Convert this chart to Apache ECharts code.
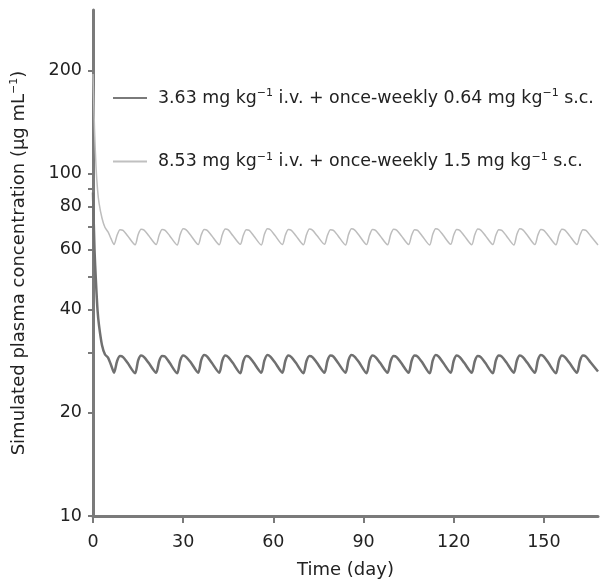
<!DOCTYPE html>
<html>
<head>
<meta charset="utf-8">
<title>Simulated plasma concentration</title>
<script src="https://cdn.jsdelivr.net/npm/echarts@6/dist/echarts.min.js"></script>
<style>
  html, body { margin: 0; padding: 0; background: #fff; }
  #main { width: 605px; height: 582px; }
</style>
</head>
<body>
<div id="main"></div>
<script>
// time points (day)
var days = [0, 0.5, 1, 1.5, 2, 3, 4, 5, 6, 7,
  8, 9, 10, 11.5, 14,
  15, 16, 17, 18.5, 21,
  22, 23, 24, 25.5, 28,
  29, 30, 31, 32.5, 35,
  36, 37, 38, 39.5, 42,
  43, 44, 45, 46.5, 49,
  50, 51, 52, 53.5, 56,
  57, 58, 59, 60.5, 63,
  64, 65, 66, 67.5, 70,
  71, 72, 73, 74.5, 77,
  78, 79, 80, 81.5, 84,
  85, 86, 87, 88.5, 91,
  92, 93, 94, 95.5, 98,
  99, 100, 101, 102.5, 105,
  106, 107, 108, 109.5, 112,
  113, 114, 115, 116.5, 119,
  120, 121, 122, 123.5, 126,
  127, 128, 129, 130.5, 133,
  134, 135, 136, 137.5, 140,
  141, 142, 143, 144.5, 147,
  148, 149, 150, 151.5, 154,
  155, 156, 157, 158.5, 161,
  162, 163, 164, 165.5, 168];

// 3.63 mg/kg i.v. + 0.64 mg/kg s.c. weekly
var lowDose = [88, 60, 48, 40, 36, 31.5, 29.6, 29.0, 27.6, 26.2,
  28.3, 29.3, 29.1, 28.0, 26.1,
  28.4, 29.4, 29.1, 28.0, 26.2,
  28.3, 29.3, 29.2, 28.0, 26.1,
  28.4, 29.4, 29.1, 28.1, 26.2,
  28.5, 29.5, 29.2, 28.0, 26.2,
  28.4, 29.4, 29.1, 28.0, 26.1,
  28.3, 29.3, 29.1, 28.0, 26.2,
  28.4, 29.5, 29.2, 28.1, 26.2,
  28.4, 29.4, 29.1, 28.0, 26.1,
  28.3, 29.3, 29.1, 28.0, 26.2,
  28.4, 29.4, 29.2, 28.0, 26.2,
  28.5, 29.5, 29.2, 28.1, 26.1,
  28.4, 29.4, 29.1, 28.0, 26.2,
  28.3, 29.3, 29.1, 28.0, 26.2,
  28.4, 29.4, 29.2, 28.1, 26.1,
  28.4, 29.5, 29.2, 28.0, 26.2,
  28.4, 29.4, 29.1, 28.0, 26.2,
  28.3, 29.3, 29.1, 28.0, 26.1,
  28.4, 29.4, 29.2, 28.1, 26.2,
  28.4, 29.4, 29.1, 28.0, 26.2,
  28.5, 29.5, 29.2, 28.0, 26.1,
  28.4, 29.4, 29.1, 28.0, 26.2,
  28.4, 29.4, 29.2, 28.1, 26.4];

// 8.53 mg/kg i.v. + 1.5 mg/kg s.c. weekly
var highDose = [195, 135, 105, 90, 82, 74, 69.5, 67.5, 64.5, 62.0,
  66.0, 68.5, 68.2, 65.8, 61.9,
  66.2, 68.7, 68.3, 65.9, 62.0,
  66.0, 68.6, 68.2, 65.8, 61.8,
  66.3, 68.9, 68.4, 66.0, 62.0,
  66.1, 68.6, 68.2, 65.8, 61.9,
  66.2, 68.8, 68.4, 65.9, 62.1,
  66.0, 68.5, 68.2, 65.7, 61.8,
  66.3, 68.9, 68.5, 66.0, 62.0,
  66.1, 68.6, 68.2, 65.8, 61.9,
  66.2, 68.8, 68.3, 65.9, 62.1,
  66.0, 68.5, 68.2, 65.8, 61.8,
  66.3, 68.9, 68.4, 66.0, 62.0,
  66.1, 68.6, 68.2, 65.8, 61.9,
  66.2, 68.7, 68.3, 65.9, 62.0,
  66.0, 68.5, 68.2, 65.7, 61.8,
  66.3, 68.9, 68.5, 66.0, 62.1,
  66.1, 68.6, 68.2, 65.8, 61.9,
  66.2, 68.8, 68.3, 65.9, 62.0,
  66.0, 68.5, 68.2, 65.8, 61.8,
  66.3, 68.9, 68.4, 66.0, 62.0,
  66.1, 68.6, 68.2, 65.8, 61.9,
  66.2, 68.7, 68.3, 65.9, 62.0,
  66.0, 68.5, 68.2, 65.8, 61.8];

var xLabels = [0, 30, 60, 90, 120, 150];
var yLabels = [10, 20, 40, 60, 80, 100, 200];
var yTicks = [10, 20, 30, 40, 50, 60, 70, 80, 90, 100, 200];

var legendNames = [
  '3.63 mg kg{sup|−1} i.v. + once-weekly 0.64 mg kg{sup|−1} s.c.',
  '8.53 mg kg{sup|−1} i.v. + once-weekly 1.5 mg kg{sup|−1} s.c.'
];

function pairs(xs, ys) {
  var out = [];
  for (var i = 0; i < xs.length; i++) out.push([xs[i], ys[i]]);
  return out;
}

var font = '"DejaVu Sans", sans-serif';
var supStyle = { fontSize: 11, fontFamily: font, color: '#222', padding: [0, 0, 9, 0] };
var axisLineStyle = { color: '#7a7a7a', width: 3 };
var tickStyle = { color: '#7a7a7a', width: 2 };

var myChart = echarts.init(document.getElementById('main'));

var option = {
  animation: false,
  backgroundColor: '#fff',
  grid: { left: 93, right: 7, top: 10, bottom: 66, containLabel: false, outerBoundsMode: 'none' },
  legend: {
    orient: 'vertical',
    left: 108,
    top: 83,
    itemGap: 45,
    itemWidth: 34,
    itemHeight: 2,
    icon: 'rect',
    data: [
      { name: legendNames[0], itemStyle: { color: '#7a7a7a' } },
      { name: legendNames[1], itemStyle: { color: '#c0c0c0' } }
    ],
    textStyle: {
      fontSize: 17.4, fontFamily: font, color: '#222', padding: [0, 0, 0, 6],
      rich: { sup: supStyle }
    }
  },
  xAxis: {
    type: 'value',
    min: 0,
    max: 168,
    interval: 30,
    name: 'Time (day)',
    nameLocation: 'middle',
    nameGap: 45,
    nameTextStyle: { fontSize: 18, fontFamily: font, color: '#222' },
    axisLine: { onZero: false, lineStyle: axisLineStyle },
    axisTick: { customValues: xLabels, length: 7, lineStyle: tickStyle },
    axisLabel: { customValues: xLabels, fontSize: 17.5, fontFamily: font, color: '#222', margin: 17 },
    splitLine: { show: false }
  },
  yAxis: {
    type: 'log',
    logBase: 10,
    min: 10,
    max: 300,
    name: 'Simulated plasma concentration (µg mL{sup|−1})',
    nameLocation: 'middle',
    nameGap: 64,
    nameTextStyle: {
      fontSize: 18, fontFamily: font, color: '#222',
      rich: { sup: supStyle }
    },
    axisLine: { onZero: false, lineStyle: axisLineStyle },
    axisTick: { customValues: yTicks, length: 5, lineStyle: tickStyle },
    axisLabel: { customValues: yLabels, fontSize: 17.5, fontFamily: font, color: '#222', margin: 11 },
    splitLine: { show: false },
    minorTick: { show: false }
  },
  series: [
    {
      name: legendNames[0],
      type: 'line',
      data: pairs(days, lowDose),
      symbol: 'none',
      smooth: 0.25,
      lineStyle: { color: '#707070', width: 2.5 },
      itemStyle: { color: '#7a7a7a' },
      z: 3
    },
    {
      name: legendNames[1],
      type: 'line',
      data: pairs(days, highDose),
      symbol: 'none',
      smooth: 0.25,
      lineStyle: { color: '#bdbdbd', width: 1.5 },
      itemStyle: { color: '#c0c0c0' },
      z: 2
    }
  ]
};
myChart.setOption(option);
</script>
</body>
</html>
